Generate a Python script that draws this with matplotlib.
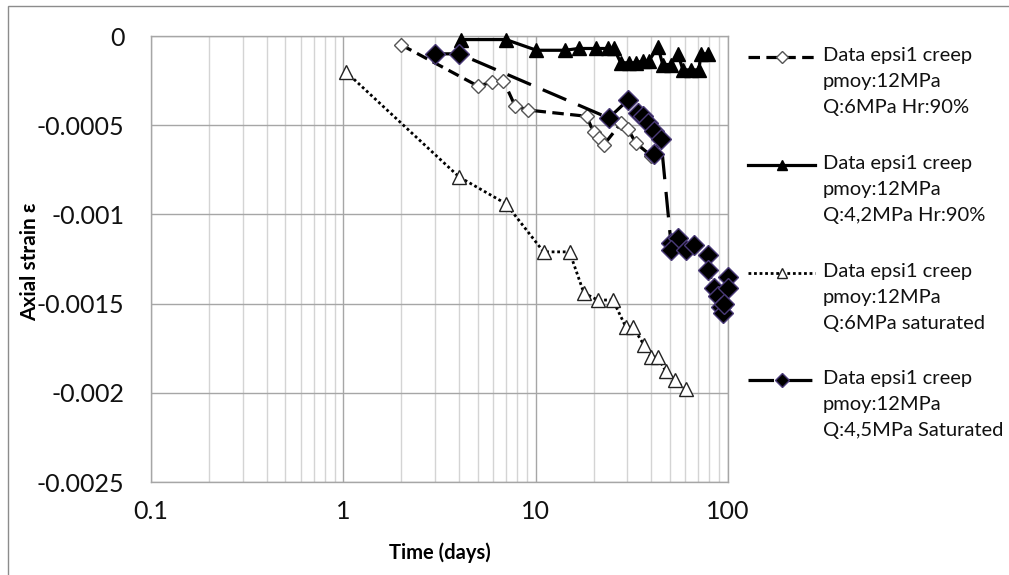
import matplotlib
matplotlib.use("Agg")
import matplotlib.pyplot as plt
from matplotlib.lines import Line2D
from matplotlib.patches import Rectangle
from matplotlib.ticker import FixedLocator, NullFormatter, FixedFormatter

# ---------------- data ----------------
t1 = [2.0, 5.0, 5.9, 6.8, 7.8, 9.1, 18.4, 20.0, 21.3, 22.6, 27.7, 30.1, 33.2, 39.7]
e1 = [-0.00005, -0.00028, -0.00026, -0.00025, -0.00039, -0.000415, -0.00045,
      -0.00054, -0.00057, -0.00061, -0.00049, -0.00052, -0.0006, -0.00067]

t2 = [4.1, 7.0, 10.1, 14.2, 16.7, 20.5, 23.7, 25.5, 27.7, 30.5, 33.2, 36.1, 38.8,
      43.2, 45.8, 50.5, 54.9, 58.3, 64.2, 70.6, 72.3, 78.7]
e2 = [-0.00002, -0.00002, -0.00008, -0.00008, -0.00007, -0.00007, -0.00007, -0.00007,
      -0.00015, -0.00015, -0.00015, -0.00014, -0.00014, -0.00006, -0.00016, -0.00016,
      -0.0001, -0.00019, -0.00019, -0.00019, -0.0001, -0.0001]

t3 = [1.03, 4.0, 7.0, 11.0, 15.0, 17.8, 21.0, 25.2, 29.4, 32.0, 36.5, 39.7, 43.2,
      47.5, 53.0, 60.4]
e3 = [-0.0002, -0.00079, -0.00094, -0.00121, -0.00121, -0.00144, -0.00148, -0.00148,
      -0.00163, -0.00163, -0.00173, -0.0018, -0.0018, -0.00188, -0.00193, -0.00198]

t4 = [3.0, 4.0, 24.0, 30.1, 34.0, 36.1, 38.3, 41.2, 41.2, 44.8, 50.5, 54.9, 50.5,
      60.4, 66.5, 78.7, 78.7, 84.6, 88.7, 92.0, 94.3, 100.0, 100.0, 95.3]
e4 = [-0.0001, -0.0001, -0.00046, -0.00036, -0.00043, -0.00045, -0.00049, -0.00053,
      -0.00066, -0.00058, -0.00116, -0.00113, -0.0012, -0.0012, -0.00117, -0.00123,
      -0.00131, -0.00141, -0.00146, -0.00152, -0.00155, -0.00135, -0.00141, -0.0015]

labels = [
    "Data epsi1 creep\npmoy:12MPa\nQ:6MPa Hr:90%",
    "Data epsi1 creep\npmoy:12MPa\nQ:4,2MPa Hr:90%",
    "Data epsi1 creep\npmoy:12MPa\nQ:6MPa saturated",
    "Data epsi1 creep\npmoy:12MPa\nQ:4,5MPa Saturated",
]
xticks = [0.1, 1, 10, 100]
xticklabels = ["0.1", "1", "10", "100"]
yticks = [0, -0.0005, -0.001, -0.0015, -0.002, -0.0025]
yticklabels = ["0", "-0.0005", "-0.001", "-0.0015", "-0.002", "-0.0025"]

# ---------------- figure ----------------
plt.rcParams['font.family'] = ['Lato', 'DejaVu Sans']
W, H = 1009, 575
fig = plt.figure(figsize=(W / 100, H / 100), dpi=100)
L, R, T, B = 151, 728, 36, 482
ax = fig.add_axes([L / W, 1 - B / H, (R - L) / W, (B - T) / H])

# chart border
fig.patches.append(Rectangle((8 / W, -0.05), 1.2, 1 - 6 / H + 0.05,
                             transform=fig.transFigure, fill=False,
                             edgecolor='#8c8c8c', lw=1.0))

styles = [
    dict(color='black', ls=(0, (3.6, 2.0)), lw=2.3, marker='D', ms=7.5,
         mfc='white', mec='#555555', mew=1.0),
    dict(color='black', ls='-', lw=2.3, marker='^', ms=10.5, mfc='black',
         mec='black', mew=1.0),
    dict(color='black', ls=(0, (1, 1.0)), lw=2.0, marker='^', ms=10, mfc='white',
         mec='#222222', mew=1.0),
    dict(color='black', ls=(0, (8, 4)), lw=2.3, marker='D', ms=10, mfc='black',
         mec='#4a3a78', mew=1.0),
]
series = [(t1, e1), (t2, e2), (t3, e3), (t4, e4)]
for i, ((t, e), st) in enumerate(zip(series, styles)):
    ax.plot(t, e, zorder=3 + i, clip_on=False, **st)

ax.set_xscale('log')
ax.set_xlim(0.1, 100)
ax.set_ylim(-0.0025, 0)
ax.xaxis.set_major_locator(FixedLocator(xticks))
ax.xaxis.set_major_formatter(FixedFormatter(xticklabels))
minors = [m * 10.0 ** d for d in (-1, 0, 1) for m in range(2, 10)]
ax.xaxis.set_minor_locator(FixedLocator(minors))
ax.xaxis.set_minor_formatter(NullFormatter())
ax.yaxis.set_major_locator(FixedLocator(yticks))
ax.yaxis.set_major_formatter(FixedFormatter(yticklabels))

ax.grid(True, which='major', axis='both', color='#a6a6a6', lw=1.0, zorder=0)
ax.grid(True, which='minor', axis='x', color='#d4d4d4', lw=1.0, zorder=0)
ax.set_axisbelow(True)
for s in ax.spines.values():
    s.set_color('#a6a6a6')
    s.set_linewidth(1.0)
ax.tick_params(which='both', length=0)
ax.tick_params(axis='y', pad=19, labelsize=18, labelcolor='#111111')
ax.tick_params(axis='x', pad=13, labelsize=18, labelcolor='#111111')

fig.text(440 / W, 1 - 553 / H, "Time (days)", ha='center', va='center',
         fontsize=14.5, fontweight='bold')
fig.text(30 / W, 1 - 262 / H, "Axial strain ε", ha='center', va='center',
         rotation=90, fontsize=15, fontweight='bold')

# manual legend
ys = [57, 165, 273, 380]
for lab, st, yy in zip(labels, styles, ys):
    yf = 1 - yy / H
    msz = st['ms'] * (0.75 if st['ms'] > 9 else 0.8)
    ln = Line2D([748 / W, 815 / W], [yf, yf], transform=fig.transFigure,
                color=st['color'], ls=st['ls'], lw=st['lw'])
    fig.lines.append(ln)
    mk = Line2D([781.5 / W], [yf], transform=fig.transFigure, ls='none',
                marker=st['marker'], ms=msz, mfc=st['mfc'],
                mec=st['mec'], mew=st['mew'])
    fig.lines.append(mk)
    fig.text(823 / W, 1 - (yy - 10) / H, lab, ha='left', va='top', fontsize=14.5,
             linespacing=1.64, color='#111111')

fig.savefig("out.png", dpi=100)
